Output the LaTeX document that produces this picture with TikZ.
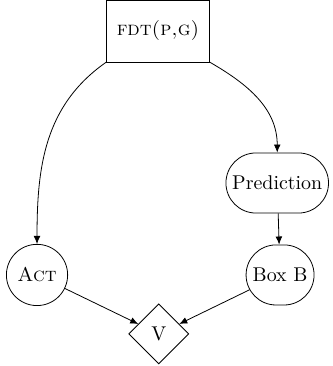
\documentclass[tikz,border=0pt]{standalone}
\usepackage{amsmath}
\usetikzlibrary{shapes.geometric,shapes.misc,arrows.meta}

\tikzset{
	every block/.style={draw, thin, font=\normalsize},
	fdt block/.style={every block/.try, rectangle, minimum width=1.82cm, minimum height=1.09cm},
	pill block/.style={every block/.try, rounded rectangle, minimum height=1.06cm, inner xsep=2pt},
	act block/.style={every block/.try, circle, minimum size=1.08cm, inner sep=0pt},
	v block/.style={every block/.try, diamond, minimum size=1.06cm, inner sep=0pt}
}

\begin{document}
\begin{tikzpicture}[x=1cm, y=1cm, >={Latex[length=4pt,width=3.4pt]}]
		\useasboundingbox (0,0) rectangle (5.857,-6.456);
		
		\node [fdt block] (fdt) at (2.787,-0.547) {\textsc{fdt(p,g)}};
		\node [pill block, minimum width=1.95cm] (prediction) at (4.89,-3.228) {Prediction};
		\node [act block] (act) at (0.653,-4.85) {\textsc{Act}};
		\node [pill block, minimum width=1.34cm] (boxb) at (4.94,-4.85) {Box B};
		\node [v block] (v) at (2.80,-5.89) {V};
		
		\draw [->] (fdt.south west) to [out=215, in=90] (act.north);
		\draw [->] (fdt.south east) to [out=-30, in=90] (prediction.north);
		\draw [->] (prediction) -- (boxb);
		
		\foreach \s in {act,boxb}
		\draw [->] (\s) -- (v);
		
		\end{tikzpicture}
\end{document}
